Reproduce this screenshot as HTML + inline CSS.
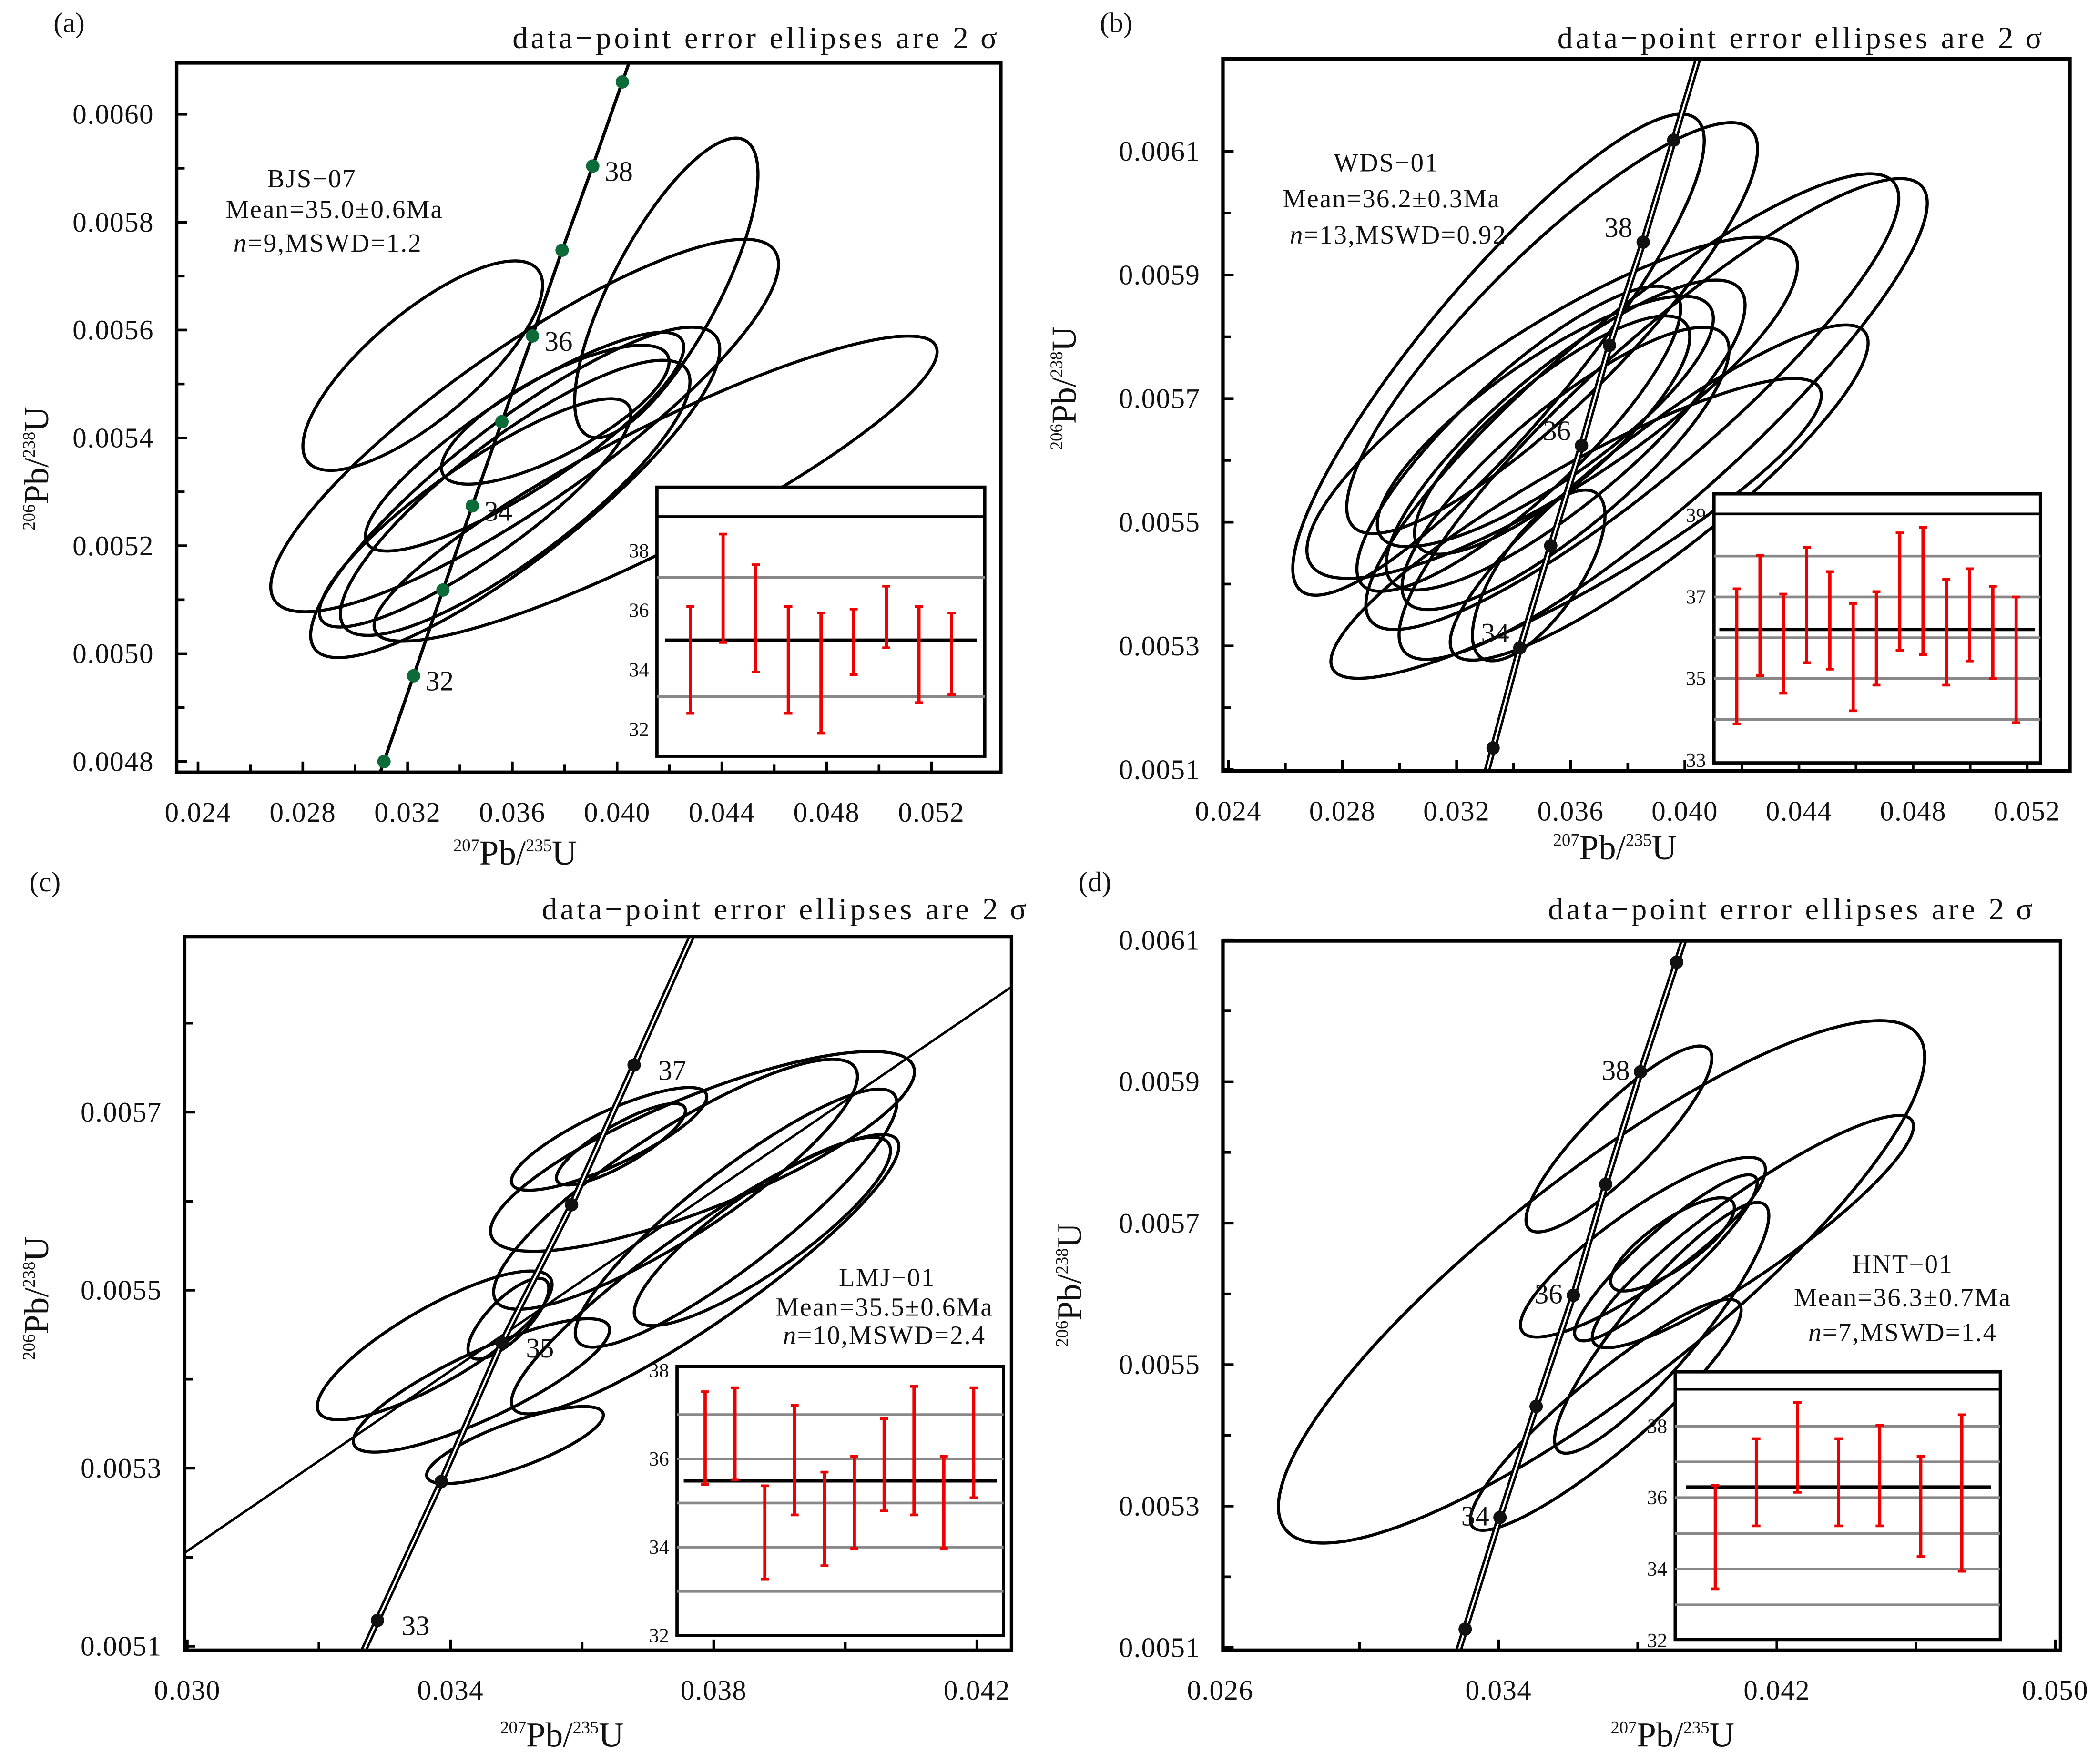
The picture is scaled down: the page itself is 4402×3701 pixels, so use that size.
<!DOCTYPE html>
<html><head><meta charset="utf-8"><style>
html,body{margin:0;padding:0;background:#fff}
svg{display:block}
text{font-family:"Liberation Serif",serif;fill:#111}
</style></head><body>
<svg id="fig" xmlns="http://www.w3.org/2000/svg" width="4402" height="3701" viewBox="0 0 1568 1318" preserveAspectRatio="none"></svg>
<script>
// ---------- Panel (a) data ----------
const aConcAge=[31,32,33,34,35,36,37,38,39];
const aConcX=[0.03110,0.03223,0.03335,0.03447,0.03560,0.03677,0.03790,0.03907,0.04020];
const aConcY=[0.00480,0.004959,0.005118,0.005274,0.005430,0.005589,0.005748,0.005904,0.006060];
const aEllX=[0.03258,0.04188,0.04147,0.03647,0.03611,0.03611,0.03647,0.03764,0.03458];
const aEllY=[0.005534,0.005678,0.005306,0.005423,0.005299,0.005289,0.005393,0.005443,0.005261];
const aEllA=[112,125,235,228,190,160,140,95,140];
const aEllB=[40,40,45,58,50,45,35,30,35];
const aEllAng=[-40,-62,-27,-35,-38,-37,-33,-28,-35];
const aBarHi=[36.13,38.56,37.53,36.13,35.91,36.04,36.81,36.13,35.91];
const aBarLo=[32.54,34.92,33.93,32.54,31.87,33.84,34.74,32.90,33.17];
const aMean=35.0;
const aGray=[37.1,33.1];
const aInsetTicks=[32,34,36,38];
// ---------- Panel (b) data ----------
const bConcAge=[33,34,35,36,37,38,39];
const bConcX=[0.03328,0.03422,0.03530,0.03638,0.03736,0.03854,0.03961];
const bConcY=[0.005135,0.005297,0.005462,0.005624,0.005786,0.005953,0.006118];
const bEllX=[0.03347,0.03535,0.03535,0.03924,0.03816,0.03619,0.03910,0.03418,0.03582,0.03535,0.03488,0.03511,0.03582];
const bEllY=[0.005771,0.005814,0.005685,0.005667,0.005695,0.005490,0.005548,0.005635,0.005641,0.005641,0.005414,0.005663,0.005587];
const bEllA=[230,210,215,260,255,210,195,160,170,130,75,150,155];
const bEllB=[55,55,60,60,60,45,45,45,50,40,30,45,45];
const bEllAng=[-50,-45,-33,-42,-40,-30,-38,-43,-40,-40,-55,-35,-40];
const bBarHi=[37.20,38.02,37.07,38.21,37.62,36.84,37.13,38.57,38.70,37.43,37.69,37.26,37.0];
const bBarLo=[33.89,35.07,34.64,35.39,35.23,34.21,34.84,35.69,35.59,34.84,35.43,35.0,33.92];
const bMean=36.2;
const bGray=[34,35,36,37,38];
const bInsetTicks=[33,35,37,39];
// ---------- Panel (c) data ----------
const cConcAge=[33,34,35,36,37];
const cConcX=[0.03289,0.03386,0.03478,0.03584,0.03679];
const cConcY=[0.005129,0.005285,0.005441,0.005596,0.005753];
const cLineX=[0.02996,0.04253];
const cLineY=[0.005205,0.005841];
const cEllX=[0.03376,0.03447,0.03498,0.03787,0.03783,0.03834,0.03874,0.03641,0.03659,0.03488,0.03742];
const cEllY=[0.005438,0.005393,0.005326,0.005518,0.005656,0.005581,0.005566,0.005670,0.005664,0.005468,0.005619];
const cEllA=[100,105,70,175,170,150,115,80,55,40,160];
const cEllB=[28,25,17,35,42,35,30,20,15,15,40];
const cEllAng=[-30,-25,-20,-35,-22,-38,-35,-25,-30,-45,-33];
const cBarHi=[37.52,37.61,35.39,37.21,35.70,36.06,36.91,37.64,36.06,37.61];
const cBarLo=[35.42,35.52,33.27,34.73,33.58,33.97,34.82,34.73,33.97,35.12];
const cMean=35.5;
const cGray=[33,34,35,36,37];
const cInsetTicks=[32,34,36,38];
// ---------- Panel (d) data ----------
const dConcAge=[33,34,35,36,37,38,39];
const dConcX=[0.03304,0.03404,0.03508,0.03615,0.03708,0.03808,0.03912];
const dConcY=[0.005126,0.005284,0.005441,0.005598,0.005755,0.005914,0.006069];
const dEllX=[0.03696,0.03746,0.03815,0.03869,0.03881,0.04131,0.03708,0.03900];
const dEllY=[0.005617,0.005819,0.005666,0.005552,0.005651,0.005688,0.005429,0.005670];
const dEllA=[300,95,110,120,90,145,130,55];
const dEllB=[80,25,28,28,20,30,28,18];
const dEllAng=[-38,-45,-35,-50,-42,-35,-40,-35];
const dBarHi=[36.34,37.65,38.66,37.65,38.02,37.16,38.32];
const dBarLo=[33.45,35.21,36.15,35.21,35.21,34.35,33.94];
const dMean=36.3;
const dGray=[33,34,35,36,37,38];
const dInsetTicks=[32,34,36,38];

const NS="http://www.w3.org/2000/svg";
const svg=document.getElementById('fig');
function mk(tag,attrs,parent,txt){const e=document.createElementNS(NS,tag);for(const k in attrs)e.setAttribute(k,attrs[k]);if(txt!==undefined)e.textContent=txt;(parent||svg).appendChild(e);return e;}

function panel(P){
  const g=mk('g',{});
  
  
  const X=v=>P.x0px+(v-P.x0)/(P.x1-P.x0)*(P.x1px-P.x0px);
  const Y=v=>P.y0px-(v-P.y0)/(P.y1-P.y0)*(P.y0px-P.y1px);
  const B=P.box;
  const cp=mk('clipPath',{id:'clip'+P.id},g);
  mk('rect',{x:B[0],y:B[1],width:B[2]-B[0],height:B[3]-B[1]},cp);
  const pl=mk('text',{x:P.letter[0],y:P.letter[1],'font-size':21},g,'('+P.id+')');
  
  
  const tt=mk('text',{x:P.title[0],y:P.title[1],'font-size':23,'letter-spacing':'2.2'},g,'data\u2212point  error  ellipses  are  2\u2009\u03c3');
  
  
  const plot=mk('g',{'clip-path':'url(#clip'+P.id+')'},g);
  
  
  for(let i=0;i<P.ex.length;i++){
    const cx=X(P.ex[i]),cy=Y(P.ey[i]);
    const e=mk('ellipse',{cx:cx,cy:cy,rx:P.ea[i],ry:P.eb[i],transform:`rotate(${P.eang[i]} ${cx} ${cy})`,fill:'none',stroke:'#000','stroke-width':2.3},plot);
    
    
  }
  if(P.lx){
    const l=mk('line',{x1:X(P.lx[0]),y1:Y(P.ly[0]),x2:X(P.lx[1]),y2:Y(P.ly[1]),stroke:'#000','stroke-width':1.8},plot);
    
    
  }
  const n=P.cx.length;
  const px=P.cx.map(X),py=P.cy.map(Y);
  const ext=1.6;
  const sx=px[0]-(px[1]-px[0])*ext, sy=py[0]-(py[1]-py[0])*ext;
  const ex=px[n-1]+(px[n-1]-px[n-2])*ext, ey=py[n-1]+(py[n-1]-py[n-2])*ext;
  let d=`M${sx},${sy}`;for(let i=0;i<n;i++)d+=` L${px[i]},${py[i]}`;d+=` L${ex},${ey}`;
  if(P.double){
    mk('path',{d:d,fill:'none',stroke:'#000','stroke-width':5},plot);
    const inner=mk('path',{d:d,fill:'none',stroke:'#fff','stroke-width':1.4},plot);
    
    
  } else {
    const c=mk('path',{d:d,fill:'none',stroke:'#000','stroke-width':2.4},plot);
    
    
  }
  for(let i=0;i<n;i++){
    const dot=mk('circle',{cx:px[i],cy:py[i],r:5,fill:P.dotColor},plot);
    
    
    if(P.ageLabels.includes(P.age[i])){
      const t=mk('text',{x:px[i]+P.lblDx,y:py[i]+P.lblDy,'font-size':21,'text-anchor':P.lblDx<0?'end':'start'},plot,String(P.age[i]));
      
      
    }
  }
  const bx=mk('rect',{x:B[0],y:B[1],width:B[2]-B[0],height:B[3]-B[1],fill:'none',stroke:'#000','stroke-width':2.6},g);
  
  
  const xt=mk('g',{},g);
  for(let v=P.xt0;v<=P.xt1+1e-9;v+=P.xstep/2){
    const xx=X(v);if(xx<B[0]-4||xx>B[2]+4)continue;
    const maj=Math.abs(Math.round((v-P.xt0)/P.xstep)*P.xstep-(v-P.xt0))<1e-9;
    const tx=Math.max(B[0],Math.min(B[2],xx));
    mk('line',{x1:tx,x2:tx,y1:B[3],y2:B[3]-(maj?8:6),stroke:'#000','stroke-width':2},xt);
    if(maj){const t=mk('text',{x:xx,y:B[3]+37,'font-size':21,'text-anchor':'middle','letter-spacing':'0.5'},xt,v.toFixed(3));
      }
  }
  const yt=mk('g',{},g);
  for(let v=P.yt0;v<=P.yt1+1e-12;v+=P.ystep/2){
    const yy=Y(v);if(yy<B[1]-1||yy>B[3]+1)continue;
    const maj=Math.abs(Math.round((v-P.yt0)/P.ystep)*P.ystep-(v-P.yt0))<1e-12;
    mk('line',{x1:B[0],x2:B[0]+(maj?8:6),y1:yy,y2:yy,stroke:'#000','stroke-width':2},yt);
    if(maj){const t=mk('text',{x:B[0]-17,y:yy+7,'font-size':21,'text-anchor':'end','letter-spacing':'0.5'},yt,v.toFixed(4));
      }
  }
  const xtl=mk('text',{x:P.xTitle[0],y:P.xTitle[1],'font-size':26,'text-anchor':'middle'},g);
  
  xtl.innerHTML='<tspan font-size="13" dy="-10">207</tspan><tspan dy="10">Pb/</tspan><tspan font-size="13" dy="-10">235</tspan><tspan dy="10">U</tspan>';
  const ytl=mk('text',{x:0,y:0,'font-size':26,'text-anchor':'middle',transform:`translate(${P.yTitle[0]},${P.yTitle[1]}) rotate(-90)`},g);
  
  ytl.innerHTML='<tspan font-size="13" dy="-10">206</tspan><tspan dy="10">Pb/</tspan><tspan font-size="13" dy="-10">238</tspan><tspan dy="10">U</tspan>';
  const sl=mk('g',{},g);
  P.info.forEach((r,i)=>{const t=mk('text',{x:r[0],y:r[1],'font-size':19.5,'text-anchor':'middle','letter-spacing':'0.8'},sl);t.innerHTML=r[2];});
  const I=P.inset;
  const ig=mk('g',{},g);
  mk('rect',{x:I.box[0],y:I.box[1],width:I.box[2]-I.box[0],height:I.box[3]-I.box[1],fill:'#fff',stroke:'#000','stroke-width':2.4},ig);
  const IY=a=>I.yRef-(a-I.aRef)*I.pu;
  P.gray.forEach(a=>{const l=mk('line',{x1:I.box[0],x2:I.box[2],y1:IY(a),y2:IY(a),stroke:'#888','stroke-width':2},ig);
    });
  if(I.head){mk('line',{x1:I.box[0],x2:I.box[2],y1:I.box[1]+I.head,y2:I.box[1]+I.head,stroke:'#000','stroke-width':2},ig);}
  const ml=mk('line',{x1:I.m0,x2:I.m1,y1:IY(P.mean),y2:IY(P.mean),stroke:'#000','stroke-width':2.4},ig);
  
  P.insetTicks.forEach(a=>{const t=mk('text',{x:I.box[0]-2+I.tlx,y:IY(a)+5,'font-size':15,'text-anchor':'end',fill:'#333'},ig,String(a));
    });
  for(let i=0;i<P.hi.length;i++){
    const bxp=I.bx0+i*I.bdx;
    const bb=mk('g',{},ig);
    mk('line',{x1:bxp,x2:bxp,y1:IY(P.hi[i]),y2:IY(P.lo[i]),stroke:'#e00','stroke-width':2.4},bb);
    mk('line',{x1:bxp-3,x2:bxp+3,y1:IY(P.hi[i]),y2:IY(P.hi[i]),stroke:'#e00','stroke-width':2},bb);
    mk('line',{x1:bxp-3,x2:bxp+3,y1:IY(P.lo[i]),y2:IY(P.lo[i]),stroke:'#e00','stroke-width':2},bb);
  }
}

panel({id:'a',x0:0.024,x1:0.028,x0px:148,x1px:226.3,y0:0.0048,y1:0.0050,y0px:569,y1px:488.4,box:[132,47,748,577],
  xt0:0.024,xt1:0.052,xstep:0.004,yt0:0.0048,yt1:0.0060,ystep:0.0002,
  letter:[40,24],title:[383,36],xTitle:[385,646],yTitle:[36,350],
  cx:aConcX,cy:aConcY,age:aConcAge,ageLabels:[32,34,36,38],lblDx:9,lblDy:11,double:false,dotColor:'#0d6b3a',
  ex:aEllX,ey:aEllY,ea:aEllA,eb:aEllB,eang:aEllAng,
  info:[[233,140,'BJS\u221207'],[250,163,'Mean=35.0\u00b10.6Ma'],[245,188,'<tspan font-style="italic">n</tspan>=9,MSWD=1.2']],
  inset:{box:[491,364,736,565],head:22,yRef:456,aRef:36,pu:22.25,m0:497,m1:730,bx0:516,bdx:24.4,tlx:-4},
  hi:aBarHi,lo:aBarLo,mean:aMean,gray:aGray,insetTicks:aInsetTicks});

panel({id:'b',x0:0.024,x1:0.028,x0px:918,x1px:1003.3,y0:0.0051,y1:0.0053,y0px:575,y1px:482.6,box:[914,44,1547,576],
  xt0:0.024,xt1:0.052,xstep:0.004,yt0:0.0051,yt1:0.0061,ystep:0.0002,
  letter:[822,24],title:[1164,36],xTitle:[1207,642],yTitle:[804,290],
  cx:bConcX,cy:bConcY,age:bConcAge,ageLabels:[34,36,38],lblDx:-8,lblDy:-4,double:true,dotColor:'#111',
  ex:bEllX,ey:bEllY,ea:bEllA,eb:bEllB,eang:bEllAng,
  info:[[1036,128,'WDS\u221201'],[1040,155,'Mean=36.2\u00b10.3Ma'],[1045,182,'<tspan font-style="italic">n</tspan>=13,MSWD=0.92']],
  inset:{box:[1281,369,1525,570],head:15,yRef:446,aRef:37,pu:30.5,m0:1285,m1:1521,bx0:1298,bdx:17.4,tlx:-4},
  hi:bBarHi,lo:bBarLo,mean:bMean,gray:bGray,insetTicks:bInsetTicks});

panel({id:'c',x0:0.030,x1:0.034,x0px:140,x1px:336.7,y0:0.0051,y1:0.0053,y0px:1230,y1px:1097,box:[138,700,756,1233],
  xt0:0.030,xt1:0.042,xstep:0.004,yt0:0.0051,yt1:0.0059,ystep:0.0002,
  letter:[22,666],title:[405,687],xTitle:[420,1305],yTitle:[36,970],
  cx:cConcX,cy:cConcY,age:cConcAge,ageLabels:[33,35,37],lblDx:18,lblDy:11,double:true,dotColor:'#111',
  lx:cLineX,ly:cLineY,
  ex:cEllX,ey:cEllY,ea:cEllA,eb:cEllB,eang:cEllAng,
  info:[[663,961,'LMJ\u221201'],[661,983,'Mean=35.5\u00b10.6Ma'],[661,1004,'<tspan font-style="italic">n</tspan>=10,MSWD=2.4']],
  inset:{box:[506,1021,750,1222],head:0,yRef:1090,aRef:36,pu:33,m0:511,m1:745,bx0:527,bdx:22.3,tlx:-4},
  hi:cBarHi,lo:cBarLo,mean:cMean,gray:cGray,insetTicks:cInsetTicks});

panel({id:'d',x0:0.026,x1:0.034,x0px:912,x1px:1120,y0:0.0051,y1:0.0053,y0px:1231,y1px:1125.3,box:[914,703,1540,1233],
  xt0:0.026,xt1:0.050,xstep:0.008,yt0:0.0051,yt1:0.0061,ystep:0.0002,
  letter:[806,666],title:[1157,687],xTitle:[1250,1305],yTitle:[808,960],
  cx:dConcX,cy:dConcY,age:dConcAge,ageLabels:[34,36,38],lblDx:-8,lblDy:6,double:true,dotColor:'#111',
  ex:dEllX,ey:dEllY,ea:dEllA,eb:dEllB,eang:dEllAng,
  info:[[1422,951,'HNT\u221201'],[1422,976,'Mean=36.3\u00b10.7Ma'],[1422,1002,'<tspan font-style="italic">n</tspan>=7,MSWD=1.4']],
  inset:{box:[1252,1025,1495,1225],head:13,yRef:1119,aRef:36,pu:26.7,m0:1260,m1:1488,bx0:1282,bdx:30.7,tlx:-4},
  hi:dBarHi,lo:dBarLo,mean:dMean,gray:dGray,insetTicks:dInsetTicks});
</script>
</body></html>
